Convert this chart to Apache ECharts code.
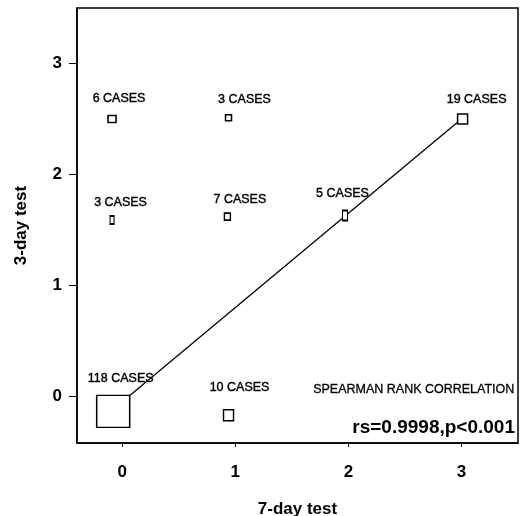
<!DOCTYPE html>
<html>
<head>
<meta charset="utf-8">
<script src="https://cdn.jsdelivr.net/npm/echarts@6/dist/echarts.min.js"></script>
<style>
  html, body { margin: 0; padding: 0; background: #fff; }
  #main { width: 523px; height: 516px; }
</style>
</head>
<body>
<div id="main"></div>
<script>
// data
var cases = [118, 10, 3, 7, 5, 6, 3, 19];
var sevenDay = [-0.08, 0.94, -0.09, 0.93, 1.97, -0.09, 0.94, 3.01];
var threeDay = [-0.135, -0.17, 1.59, 1.62, 1.63, 2.5, 2.51, 2.5];
var lineX = [0.07, 3.0];
var lineY = [0.01, 2.5];
var tickValues = [0, 1, 2, 3];

// marker box sizes and label offsets (px)
var boxSize = [[33, 32], [10, 11], [4, 8], [6, 7], [5, 10], [8, 7], [6, 6], [10, 10]];
var labelOffset = [[7.5, -33], [11, -27.5], [8.5, -17.5], [12.5, -17.5], [-2.5, -21.5], [7, -20], [16, -18], [14, -19]];

var myChart = echarts.init(document.getElementById('main'));

var font = 'Liberation Sans, Arial, Helvetica, sans-serif';

var points = cases.map(function (c, i) {
  return {
    value: [sevenDay[i], threeDay[i], c],
    symbolSize: boxSize[i],
    label: { offset: labelOffset[i] }
  };
});

myChart.setOption({
  animation: false,
  grid: {
    left: 77, top: 8, right: 5, bottom: 73,
    outerBoundsMode: 'none',
    containLabel: false,
    show: true, borderColor: '#000', borderWidth: 1.5
  },
  xAxis: {
    type: 'value',
    min: -0.4, max: 3.5,
    name: '7-day test',
    nameLocation: 'middle',
    nameGap: 58,
    nameTextStyle: { color: '#000', fontSize: 17, fontWeight: 'bold', fontFamily: font },
    splitLine: { show: false },
    axisLine: { onZero: false, lineStyle: { color: '#000', width: 1.5 } },
    axisTick: { customValues: tickValues, length: 4, lineStyle: { color: '#000' } },
    axisLabel: { customValues: tickValues, margin: 21, color: '#000', fontSize: 17, fontWeight: 'bold', fontFamily: font }
  },
  yAxis: {
    type: 'value',
    min: -0.42, max: 3.5,
    name: '3-day test',
    nameLocation: 'middle',
    nameGap: 47,
    nameTextStyle: { color: '#000', fontSize: 17, fontWeight: 'bold', fontFamily: font },
    splitLine: { show: false },
    axisLine: { onZero: false, lineStyle: { color: '#000', width: 1.5 } },
    axisTick: { customValues: tickValues, length: 8, lineStyle: { color: '#000' } },
    axisLabel: { customValues: tickValues, margin: 15, color: '#000', fontSize: 17, fontWeight: 'bold', fontFamily: font }
  },
  series: [
    {
      type: 'line',
      data: lineX.map(function (x, i) { return [x, lineY[i]]; }),
      symbol: 'none',
      lineStyle: { color: '#000', width: 1.3 },
      z: 1
    },
    {
      type: 'scatter',
      symbol: 'rect',
      data: points,
      itemStyle: { color: '#fff', borderColor: '#000', borderWidth: 1.5, opacity: 1 },
      label: {
        show: true,
        position: 'inside',
        formatter: function (p) { return p.value[2] + ' CASES'; },
        color: '#000',
        fontSize: 12.5,
        fontFamily: font,
        textBorderColor: '#000',
        textBorderWidth: 0.4
      },
      z: 2
    }
  ],
  graphic: [
    {
      type: 'text', left: 313, top: 383,
      style: { text: 'SPEARMAN RANK CORRELATION', fill: '#000', fontSize: 12.5, fontFamily: font, stroke: '#000', lineWidth: 0.3 }
    },
    {
      type: 'text', right: 8, top: 418,
      style: { text: 'rs=0.9998,p<0.001', fill: '#000', fontSize: 19, fontWeight: 'bold', fontFamily: font }
    }
  ]
});
</script>
</body>
</html>
